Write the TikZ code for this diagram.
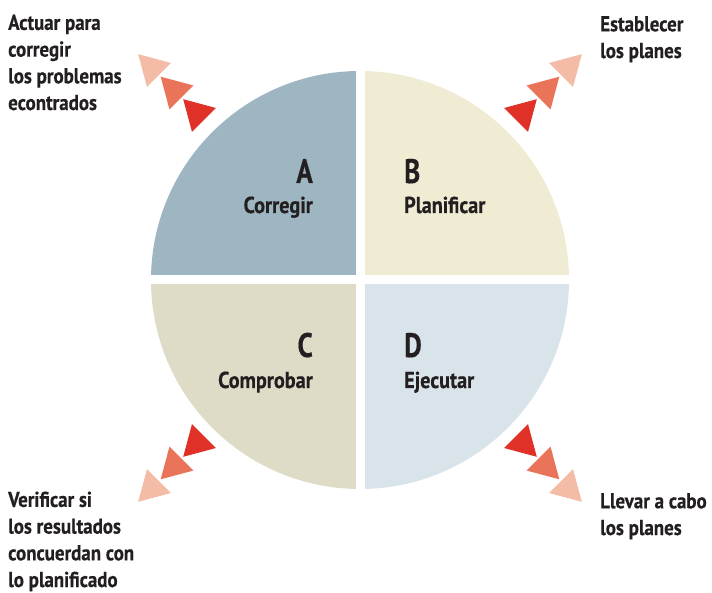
\documentclass[tikz,border=0pt]{standalone}
\usepackage{fontspec}
\newfontfamily\cond[FakeStretch=0.8,FakeBold=0.4]{PT Sans}
\newfontfamily\condw[FakeStretch=0.88,FakeBold=0.4]{PT Sans}
\definecolor{qa}{HTML}{9EB5C2}
\definecolor{qb}{HTML}{F0ECD3}
\definecolor{qc}{HTML}{DEDBC7}
\definecolor{qd}{HTML}{D8E4EA}
\definecolor{tdark}{HTML}{E03128}
\definecolor{tmid}{HTML}{E97459}
\definecolor{tlight}{HTML}{F4BBA6}
\definecolor{ink}{HTML}{231F20}
\begin{document}
\begin{tikzpicture}[x=1pt,y=-1pt,
  outer/.style={inner sep=0pt,anchor=base west,align=left,text=ink,
    font=\condw\bfseries\fontsize{21.5}{26.7}\selectfont},
  letter/.style={inner sep=0pt,text=ink,font=\cond\bfseries\fontsize{34}{34}\selectfont},
  word/.style={inner sep=0pt,text=ink,font=\condw\bfseries\fontsize{23}{26}\selectfont}]
\useasboundingbox (0,0) rectangle (712,593);
\fill[white] (0,0) rectangle (712,593);
% circle quadrants
\begin{scope}
  \clip (360,280) circle (209);
  \fill[qa] (100,0) rectangle (355.5,275.5);
  \fill[qb] (364.5,0) rectangle (620,275.5);
  \fill[qc] (100,284.5) rectangle (355.5,560);
  \fill[qd] (364.5,284.5) rectangle (620,560);
\end{scope}
% triangles
\newcommand\tri[3]{\fill[#3] (#1) +(#2:19.5) -- +(#2+120:19.5) -- +(#2+240:19.5) -- cycle;}
\tri{197,113}{225}{tdark}\tri{174.5,90.5}{225}{tmid}\tri{152,68}{225}{tlight}
\tri{523,113}{315}{tdark}\tri{545.5,90.5}{315}{tmid}\tri{568,68}{315}{tlight}
\tri{197,443}{135}{tdark}\tri{174.5,465.5}{135}{tmid}\tri{152,488}{135}{tlight}
\tri{523,443}{45}{tdark}\tri{545.5,465.5}{45}{tmid}\tri{568,488}{45}{tlight}
% quadrant labels
\node[letter,anchor=base east] (la) at (313,183) {A};
\node[word,anchor=base east] (wa) at (313,213) {Corregir};
\node[letter,anchor=base west] (lb) at (404,183) {B};
\node[word,anchor=base west] (wb) at (404,213) {Planificar};
\node[letter,anchor=base east] (lc) at (313,357) {C};
\node[word,anchor=base east] (wc) at (313,388) {Comprobar};
\node[letter,anchor=base west] (ld) at (404,357) {D};
\node[word,anchor=base west] (wd) at (404,388) {Ejecutar};
% outer labels (anchored at the baseline of their last line)
\node[outer] (ta) at (8,110) {Actuar para\\corregir\\los problemas\\econtrados};
\node[outer] (tb) at (600,58) {Establecer\\los planes};
\node[outer] (tc) at (8,587) {Verificar si\\los resultados\\concuerdan con\\lo planificado};
\node[outer] (td) at (600,535) {Llevar a cabo\\los planes};
\end{tikzpicture}
\end{document}
